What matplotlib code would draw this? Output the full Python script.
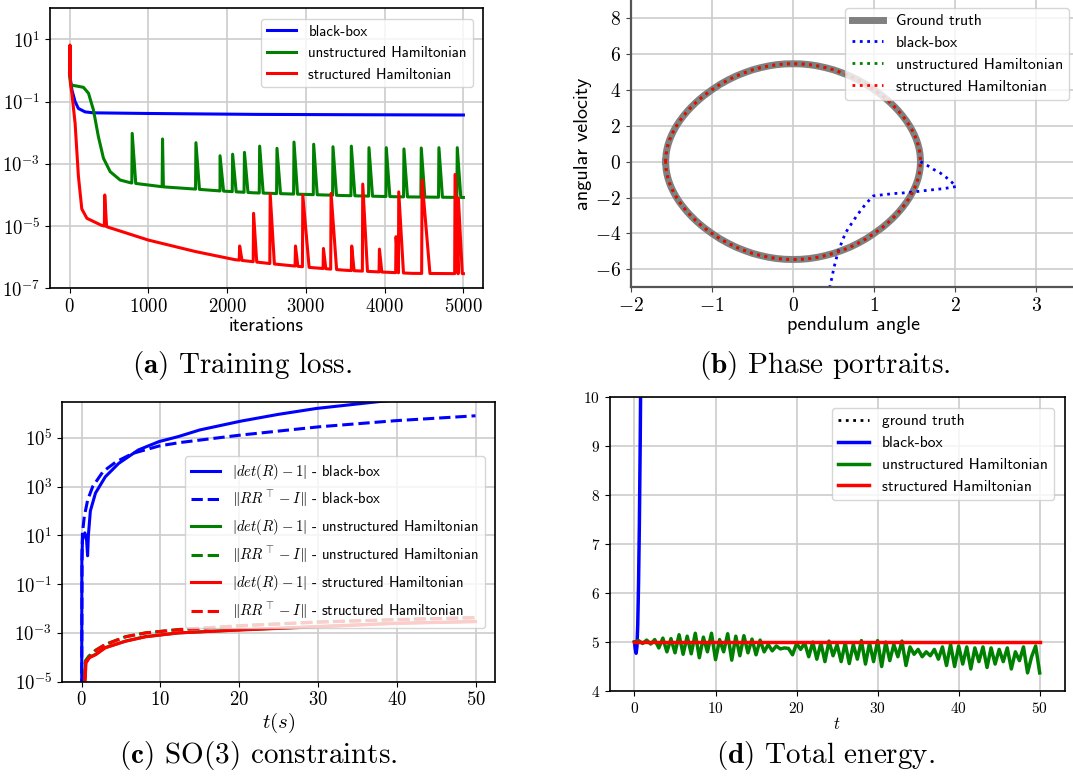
import numpy as np
import matplotlib.pyplot as plt
from matplotlib.ticker import FuncFormatter, NullLocator

plt.rcParams['mathtext.fontset'] = 'cm'
plt.rcParams['font.family'] = 'cmss10'
plt.rcParams['axes.formatter.use_mathtext'] = True

W, H = 1073, 782

# ---- (a) training loss, stored as log10(loss) ----
bb_loss_it = [0, 30, 70, 112, 197, 303, 980, 2375, 3500, 5000]
bb_loss_log = [-0.1, -0.63, -1.0, -1.22, -1.33, -1.36, -1.38, -1.41, -1.42, -1.43]

uh_loss_it = [0, 10, 28, 176, 240, 303, 366, 430, 515, 642, 777, 1191, 1593, 1910, 2333, 2830, 3500, 4200, 5000]
uh_loss_log = [-0.1, -0.4, -0.47, -0.54, -0.73, -1.27, -2.13, -2.82, -3.25, -3.52, -3.61, -3.74, -3.81,
               -3.87, -3.93, -3.97, -4.02, -4.06, -4.08]
uh_spike_it = [795, 1180, 1604, 1910, 2070, 2220, 2413, 2633, 2849, 3099, 3344, 3577, 3801, 4021, 4245,
               4465, 4689, 4922]
uh_spike_log = [-2.02, -2.2, -2.32, -2.74, -2.69, -2.63, -2.43, -2.5, -2.3, -2.37, -2.45, -2.43, -2.48,
                -2.48, -2.52, -2.49, -2.48, -2.48]

sh_loss_it = [0, 5, 12, 30, 70, 112, 155, 220, 400, 470, 1000, 1600, 2100, 2600, 3050, 3500, 3900, 4350, 5000]
sh_loss_log = [-0.15, 0.82, -0.45, -0.75, -1.7, -3.4, -4.45, -4.75, -4.97, -5.02, -5.45, -5.82, -6.08,
               -6.22, -6.33, -6.42, -6.47, -6.52, -6.53]
sh_spike_it = [446, 2159, 2336, 2547, 2868, 2961, 3223, 3320, 3582, 3722, 3934, 4145, 4179, 4475, 4894, 4936]
sh_spike_log = [-4.0, -5.64, -4.59, -3.97, -5.64, -4.0, -5.72, -3.95, -5.64, -3.65, -5.74, -5.34, -3.9,
                -3.52, -3.34, -4.1]
sh_spike_w = [40, 30, 40, 90, 30, 80, 30, 70, 30, 60, 30, 30, 60, 100, 40, 50]

# ---- (b) phase portraits ----
gt_theta = [-1.571, -1.565, -1.555, -1.54, -1.52, -1.5, -1.47, -1.44, -1.4, -1.35, -1.3, -1.25, -1.2, -1.15,
            -1.1, -1.0, -0.9, -0.8, -0.7, -0.6, -0.5, -0.4, -0.3, -0.2, -0.1, 0.0,
            0.1, 0.2, 0.3, 0.4, 0.5, 0.6, 0.7, 0.8, 0.9, 1.0, 1.1, 1.15, 1.2, 1.25, 1.3, 1.35, 1.4, 1.44,
            1.47, 1.5, 1.52, 1.54, 1.555, 1.565, 1.571,
            1.565, 1.555, 1.54, 1.52, 1.5, 1.47, 1.44, 1.4, 1.35, 1.3, 1.25, 1.2, 1.15, 1.1, 1.0, 0.9,
            0.8, 0.7, 0.6, 0.5, 0.4, 0.3, 0.2, 0.1, 0.0,
            -0.1, -0.2, -0.3, -0.4, -0.5, -0.6, -0.7, -0.8, -0.9, -1.0, -1.1, -1.15, -1.2, -1.25, -1.3,
            -1.35, -1.4, -1.44, -1.47, -1.5, -1.52, -1.54, -1.555, -1.565, -1.571]
gt_omega = [0.0, 0.42, 0.69, 0.96, 1.23, 1.45, 1.73, 1.97, 2.25, 2.55, 2.82, 3.06, 3.28, 3.48,
            3.67, 4.0, 4.3, 4.55, 4.77, 4.95, 5.11, 5.23, 5.33, 5.4, 5.44, 5.45,
            5.44, 5.4, 5.33, 5.23, 5.11, 4.95, 4.77, 4.55, 4.3, 4.0, 3.67, 3.48, 3.28, 3.06, 2.82, 2.55,
            2.25, 1.97, 1.73, 1.45, 1.23, 0.96, 0.69, 0.42, 0.0,
            -0.42, -0.69, -0.96, -1.23, -1.45, -1.73, -1.97, -2.25, -2.55, -2.82, -3.06, -3.28, -3.48,
            -3.67, -4.0, -4.3, -4.55, -4.77, -4.95, -5.11, -5.23, -5.33, -5.4, -5.44, -5.45,
            -5.44, -5.4, -5.33, -5.23, -5.11, -4.95, -4.77, -4.55, -4.3, -4.0, -3.67, -3.48, -3.28,
            -3.06, -2.82, -2.55, -2.25, -1.97, -1.73, -1.45, -1.23, -0.96, -0.69, -0.42, 0.0]
# the two Hamiltonian models sit on the ground truth loop
uh_theta, uh_omega = gt_theta, gt_omega
sh_theta, sh_omega = gt_theta, gt_omega
bb_theta = [1.57, 1.65, 1.73, 1.81, 1.88, 1.95, 2.01, 1.93, 1.86, 1.76, 1.67, 1.58, 1.49, 1.37, 1.24, 1.1,
            0.99, 0.93, 0.88, 0.83, 0.78, 0.73, 0.68, 0.64, 0.6, 0.56, 0.53, 0.5, 0.48, 0.46, 0.44]
bb_omega = [0.0, -0.2, -0.43, -0.62, -0.85, -1.12, -1.39, -1.45, -1.5, -1.55, -1.59, -1.64, -1.69, -1.74,
            -1.78, -1.85, -1.91, -2.19, -2.45, -2.74, -3.05, -3.39, -3.72, -4.04, -4.5, -4.96, -5.45,
            -5.98, -6.45, -6.81, -7.3]

# ---- (c) SO(3) constraints, log10 values ----
bb_det_t = [0.0, 0.02, 0.1, 0.4, 0.6, 0.75, 0.85, 1.1, 1.75, 3.0, 4.7, 7.2, 9.8, 12.3, 15, 20.2, 25, 29.8,
            37.7, 44, 50]
bb_det_log = [-6, 0.0, 0.8, 1.1, 0.9, 0.16, 1.0, 2.0, 2.73, 3.4, 3.95, 4.5, 4.84, 5.05, 5.32, 5.68, 5.96,
              6.2, 6.48, 6.68, 6.85]
bb_orth_t = [0.0, 0.05, 0.1, 0.33, 0.76, 1.4, 2.7, 4.4, 6.5, 9.8, 12.4, 20.2, 30.2, 39.9, 50]
bb_orth_log = [-6, 0.5, 1.1, 1.77, 2.45, 3.0, 3.61, 4.02, 4.36, 4.66, 4.8, 5.11, 5.45, 5.7, 5.9]
uh_det_t = [0.28, 0.5, 0.97, 1.8, 3.0, 5.6, 8.1, 12.3, 20.2, 29.8, 40, 50]
uh_det_log = [-5.6, -4.2, -4.0, -3.87, -3.6, -3.33, -3.15, -3.0, -2.87, -2.74, -2.6, -2.53]
uh_orth_t = [0.25, 0.45, 0.9, 1.8, 3.0, 5.6, 8.1, 12.3, 20.2, 30, 40, 50]
uh_orth_log = [-5.6, -4.15, -3.95, -3.7, -3.47, -3.15, -3.0, -2.86, -2.7, -2.55, -2.45, -2.37]
sh_det_t = [0.33, 0.55, 0.97, 1.8, 3.0, 5.6, 8.1, 12.3, 20.2, 29.8, 40, 50]
sh_det_log = [-5.6, -4.23, -4.02, -3.89, -3.61, -3.34, -3.16, -3.0, -2.88, -2.75, -2.61, -2.54]
sh_orth_t = [0.3, 0.5, 0.95, 1.8, 3.0, 5.6, 8.1, 12.3, 20.2, 30, 40, 50]
sh_orth_log = [-5.6, -4.2, -4.02, -3.72, -3.48, -3.16, -3.0, -2.87, -2.71, -2.56, -2.46, -2.38]

# ---- (d) total energy ----
gt_energy_t = [0, 50]
gt_energy = [5.0, 5.0]
bb_energy_t = [0.0, 0.1, 0.2, 0.3, 0.4, 0.5, 0.6, 0.7, 0.8, 1.0]
bb_energy = [5.0, 4.85, 4.77, 4.9, 5.35, 6.2, 7.4, 9.0, 11.0, 16.0]
uh_energy_t = list(np.arange(0, 50.5, 0.5))
uh_energy = [5.0, 5.03, 4.97, 5.04, 4.96, 5.05, 4.88, 5.08, 4.8, 5.07, 4.78, 5.15, 4.75, 5.12, 4.76, 5.18,
             4.68, 5.1, 4.8, 5.18, 4.64, 5.05, 4.8, 5.17, 4.63, 5.12, 4.72, 5.13, 4.78, 5.06, 4.74, 5.04,
             4.8, 4.95, 4.82, 4.92, 4.86, 4.88, 4.87, 4.74, 4.97, 4.85, 4.98, 4.7, 5.0, 4.65, 4.98, 4.6,
             5.02, 4.72, 4.95, 4.6, 4.98, 4.56, 4.95, 4.65, 5.03, 4.55, 4.98, 4.6, 5.03, 4.5, 5.0, 4.62,
             4.95, 4.7, 5.02, 4.52, 4.9, 4.75, 4.85, 4.7, 4.8, 4.72, 4.85, 4.65, 4.9, 4.52, 4.95, 4.5,
             4.92, 4.55, 4.9, 4.45, 4.88, 4.6, 4.9, 4.48, 4.88, 4.55, 4.85, 4.6, 4.88, 4.45, 4.8, 4.62,
             4.9, 4.37, 4.7, 4.92, 4.37]
sh_energy_t = [0, 50]
sh_energy = [5.0, 5.0]


def add_spikes(it, logv, sp_it, sp_log, sp_w=None):
    # put the loss spikes on top of the smooth baseline
    if sp_w is None:
        sp_w = [45] * len(sp_it)
    xs, ys = list(it), list(logv)
    for p, h, w in zip(sp_it, sp_log, sp_w):
        xs += [p - 5, p, p + w]
        ys += [np.interp(p - 5, it, logv), h, np.interp(p + w, it, logv)]
    order = np.argsort(xs, kind='stable')
    return np.array(xs)[order], 10 ** np.array(ys)[order]


def pow_fmt(v, pos):
    return r'$10^{%d}$' % int(round(np.log10(v)))


def lin_fmt(v, pos):
    return r'$%g$' % v


def frac(left, top, right, bottom):
    return [left / W, 1 - bottom / H, (right - left) / W, (bottom - top) / H]


grid_kw = dict(color='#cccccc', linewidth=1.2)

fig = plt.figure(figsize=(W / 100, H / 100), dpi=100)

# (a)
ax = fig.add_axes(frac(49.9, 8.3, 483.1, 288.3))
ax.semilogy(*add_spikes(bb_loss_it, bb_loss_log, [], []), color='blue', lw=2.2, label='black-box')
ax.semilogy(*add_spikes(uh_loss_it, uh_loss_log, uh_spike_it, uh_spike_log), color='green', lw=2.2,
            label='unstructured Hamiltonian')
ax.semilogy(*add_spikes(sh_loss_it, sh_loss_log, sh_spike_it, sh_spike_log, sh_spike_w), color='red',
            lw=2.2, label='structured Hamiltonian')
ax.set_xlim(-250, 5250)
ax.set_ylim(1e-7, 1e2)
ax.set_yticks([1e-7, 1e-5, 1e-3, 1e-1, 1e1])
ax.yaxis.set_minor_locator(NullLocator())
ax.yaxis.set_major_formatter(FuncFormatter(pow_fmt))
ax.xaxis.set_major_formatter(FuncFormatter(lin_fmt))
ax.tick_params(labelsize=13.5)
for s in ax.spines.values():
    s.set_linewidth(1.2)
ax.set_xlabel('iterations', fontsize=14, labelpad=1)
ax.grid(True, **grid_kw)
ax.legend(loc='upper right', fontsize=10.7, borderaxespad=0.7)

# (b)
ax = fig.add_axes(frac(630.8, 0, 1077, 287.3))
ax.plot(gt_theta, gt_omega, color='gray', lw=5, label='Ground truth')
ax.plot(bb_theta, bb_omega, color='blue', ls=':', lw=2, label='black-box')
ax.plot(uh_theta, uh_omega, color='green', ls=':', lw=2, label='unstructured Hamiltonian')
ax.plot(sh_theta, sh_omega, color='red', ls=':', lw=2, label='structured Hamiltonian')
ax.set_xlim(-2, 3.5)
ax.set_ylim(-7, 9)
ax.set_yticks([-6, -4, -2, 0, 2, 4, 6, 8])
ax.xaxis.set_major_formatter(FuncFormatter(lin_fmt))
ax.yaxis.set_major_formatter(FuncFormatter(lin_fmt))
ax.tick_params(labelsize=14, color='#444444')
for s in ['top', 'right']:
    ax.spines[s].set_visible(False)
for s in ['left', 'bottom']:
    ax.spines[s].set_color('#555555')
    ax.spines[s].set_linewidth(1.6)
ax.set_xlabel('pendulum angle', fontsize=14.5, labelpad=1)
ax.set_ylabel('angular velocity', fontsize=14.5, labelpad=2)
ax.grid(True, **grid_kw)
ax.legend(loc='upper right', fontsize=11.3, borderaxespad=0.5)

# (c)
ax = fig.add_axes(frac(62, 401.7, 495.2, 681.7))
ax.semilogy(bb_det_t, 10 ** np.array(bb_det_log), color='blue', lw=2.2, label=r'$|det(R)-1|$ - black-box')
ax.semilogy(bb_orth_t, 10 ** np.array(bb_orth_log), color='blue', ls='--', lw=2.2,
            label=r'$\|RR^{\top}-I\|$ - black-box')
ax.semilogy(uh_det_t, 10 ** np.array(uh_det_log), color='green', lw=2.2,
            label=r'$|det(R)-1|$ - unstructured Hamiltonian')
ax.semilogy(uh_orth_t, 10 ** np.array(uh_orth_log), color='green', ls='--', lw=2.2,
            label=r'$\|RR^{\top}-I\|$ - unstructured Hamiltonian')
ax.semilogy(sh_det_t, 10 ** np.array(sh_det_log), color='red', lw=2.2,
            label=r'$|det(R)-1|$ - structured Hamiltonian')
ax.semilogy(sh_orth_t, 10 ** np.array(sh_orth_log), color='red', ls='--', lw=2.2,
            label=r'$\|RR^{\top}-I\|$ - structured Hamiltonian')
ax.set_xlim(-2.5, 52.5)
ax.set_ylim(1e-5, 3e6)
ax.set_yticks([1e-5, 1e-3, 1e-1, 1e1, 1e3, 1e5])
ax.yaxis.set_minor_locator(NullLocator())
ax.yaxis.set_major_formatter(FuncFormatter(pow_fmt))
ax.xaxis.set_major_formatter(FuncFormatter(lin_fmt))
ax.tick_params(labelsize=13.5)
for s in ax.spines.values():
    s.set_linewidth(1.2)
ax.set_xlabel(r'$t(s)$', fontsize=15, labelpad=1)
ax.grid(True, **grid_kw)
ax.legend(loc='center right', fontsize=10.6, borderaxespad=0.7)

# (d)
ax = fig.add_axes(frac(609.7, 397.3, 1064.5, 691))
ax.plot(gt_energy_t, gt_energy, color='black', ls=':', lw=2, label='ground truth')
ax.plot(bb_energy_t, bb_energy, color='blue', lw=2.5, label='black-box')
ax.plot(uh_energy_t, uh_energy, color='green', lw=2.5, label='unstructured Hamiltonian')
ax.plot(sh_energy_t, sh_energy, color='red', lw=2.5, label='structured Hamiltonian')
ax.set_xlim(-3.06, 53.06)
ax.set_ylim(4, 10)
ax.xaxis.set_major_formatter(FuncFormatter(lin_fmt))
ax.yaxis.set_major_formatter(FuncFormatter(lin_fmt))
ax.tick_params(labelsize=11)
for s in ax.spines.values():
    s.set_linewidth(1.2)
ax.set_xlabel(r'$t$', fontsize=12, labelpad=0)
ax.grid(True, **grid_kw)
ax.legend(loc='upper right', fontsize=11.2, borderaxespad=0.7)

# sub-captions
cap_kw = dict(ha='center', va='center', fontsize=21, family='cmr10')
fig.text(242 / W, 1 - 366 / H, r'$\mathbf{(a)}$ Training loss.', **cap_kw)
fig.text(825 / W, 1 - 366 / H, r'$\mathbf{(b)}$ Phase portraits.', **cap_kw)
fig.text(258 / W, 1 - 756 / H, r'$\mathbf{(c)}$ SO(3) constraints.', **cap_kw)
fig.text(826 / W, 1 - 756 / H, r'$\mathbf{(d)}$ Total energy.', **cap_kw)

fig.savefig('out.png', dpi=100)
